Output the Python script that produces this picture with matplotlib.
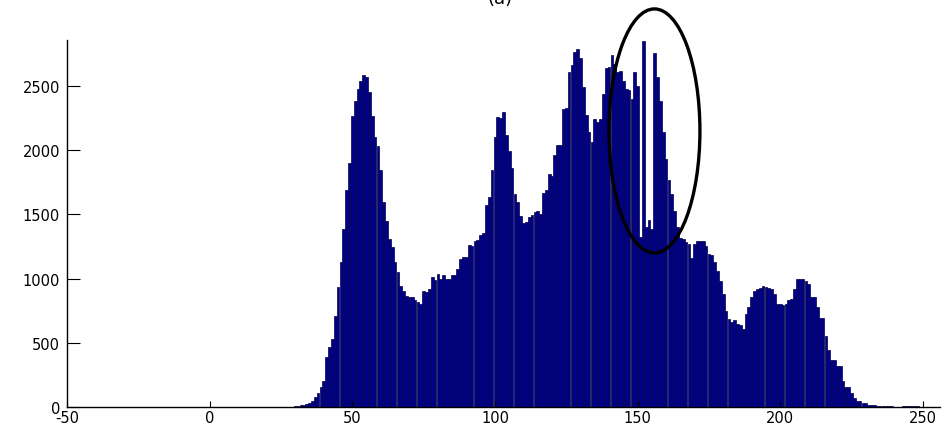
import numpy as np
import matplotlib
matplotlib.use("Agg")
import matplotlib.pyplot as plt
from matplotlib.patches import Ellipse

plt.rcParams["axes.unicode_minus"] = False

# grey levels 0..255
levels = np.arange(256)

counts_low = [0] * 28  # bins 0..27
counts_mode1 = [2, 3, 5, 8, 12, 18, 25, 35, 45, 80,            # 28-37
                110, 155, 205, 390, 470, 530, 710, 935, 1130, 1385,  # 38-47
                1690, 1900, 2265, 2385, 2475, 2540, 2585, 2570, 2455, 2265,  # 48-57
                2100, 2035, 1845, 1600, 1450, 1305, 1245, 1130, 1050, 945,  # 58-67
                900, 865, 855, 860, 830, 820, 805, 905, 895, 920]  # 68-77
counts_mode2 = [1010, 990, 1035, 1000, 1030, 1000, 995, 1025, 1030, 1075,  # 78-87
                1155, 1170, 1165, 1260, 1255, 1295, 1300, 1340, 1355, 1575,  # 88-97
                1635, 1845, 2100, 2255, 2250, 2300, 2120, 1990, 1860, 1660,  # 98-107
                1595, 1490, 1435, 1440, 1480, 1495, 1515, 1530, 1505, 1665,  # 108-117
                1690, 1815, 1800, 1960, 2040, 2040, 2320, 2330, 2605, 2665]  # 118-127
counts_mode3 = [2765, 2790, 2715, 2490, 2275, 2140, 2060, 2245, 2220, 2240,  # 128-137
                2440, 2640, 2645, 2745, 2670, 2610, 2620, 2535, 2480, 2465,  # 138-147
                2400, 2610, 2500, 1320, 2850, 1400, 1460, 1390, 2755, 2570,  # 148-157
                2380, 2145, 1930, 1765, 1655, 1530, 1400, 1315, 1310, 1285,  # 158-167
                1270, 1160, 1270, 1295, 1295, 1290, 1255, 1190, 1185, 1130]  # 168-177
counts_mode4 = [1060, 985, 880, 750, 685, 665, 680, 645, 640, 607,  # 178-187
                725, 775, 860, 905, 920, 930, 940, 938, 925, 920,  # 188-197
                880, 805, 800, 795, 800, 835, 840, 920, 995, 1000,  # 198-207
                995, 985, 960, 860, 860, 775, 690, 690, 555, 440,  # 208-217
                365, 365, 320, 320, 205, 155, 155, 110, 70, 50,  # 218-227
                50, 30, 30, 15, 15, 12, 10, 8, 5, 5,  # 228-237
                5, 4, 3, 3, 2, 5, 5, 4, 4, 5, 5]  # 238-248
counts_high = [0] * 7  # bins 249..255

counts = np.array(counts_low + counts_mode1 + counts_mode2 + counts_mode3
                  + counts_mode4 + counts_high, dtype=float)

xticks = [-50, 0, 50, 100, 150, 200, 250]
yticks = [0, 500, 1000, 1500, 2000, 2500]

fig = plt.figure(figsize=(9.49, 4.27), dpi=100)
ax = fig.add_axes([67 / 949, 19 / 427, 873 / 949, 367 / 427])

ax.bar(levels, counts, width=0.95, color="#00008B", edgecolor="#00004A",
       linewidth=0.5, align="center")

ax.set_xlim(-50, 256)
ax.set_ylim(0, 2858)
ax.set_xticks(xticks)
ax.set_yticks(yticks)
ax.tick_params(axis="both", direction="in", labelsize=10.5, colors="black",
               width=0.8)
ax.tick_params(axis="y", length=9, pad=5)
ax.tick_params(axis="x", length=4, pad=2)
for lab in ax.get_xticklabels() + ax.get_yticklabels():
    lab.set_family("DejaVu Sans")

for s in ["top", "right"]:
    ax.spines[s].set_visible(False)
for s in ["left", "bottom"]:
    ax.spines[s].set_linewidth(1.0)
    ax.spines[s].set_color("black")

# annotation ellipse around the spikes
ell = Ellipse((155.9, 2150), 31.9, 1900, fill=False, edgecolor="black",
              linewidth=2.4, clip_on=False, zorder=5)
ax.add_patch(ell)

fig.text(500 / 949, 1 - 8 / 427, "(a)", ha="center", va="bottom",
         fontsize=13, family="DejaVu Sans")

fig.savefig("out.png", dpi=100)
